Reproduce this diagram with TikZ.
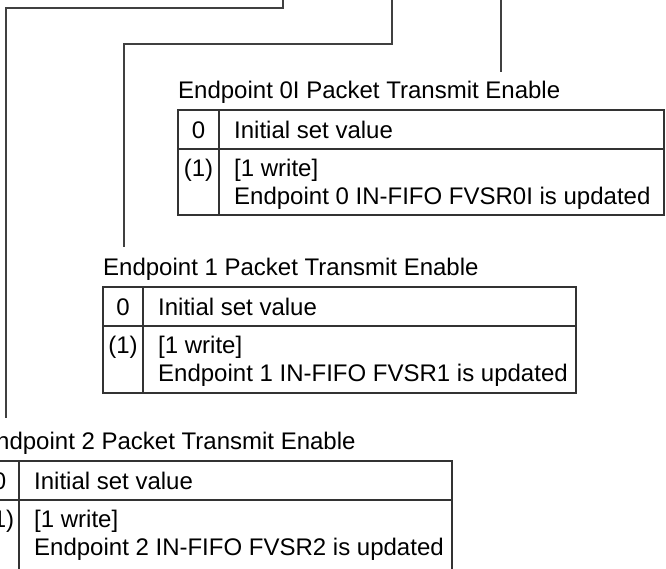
\documentclass[tikz,border=0pt]{standalone}
\usepackage{fontspec}
\setmainfont{Liberation Sans}
\begin{document}
\begin{tikzpicture}[x=1pt,y=-1pt,
  conn/.style={draw=black!75,line width=1.3pt},
  tbl/.style={draw=black!80,line width=1.1pt},
  txt/.style={anchor=base west,inner sep=0pt,font=\fontsize{24}{28}\selectfont},
  ctxt/.style={anchor=base,inner sep=0pt,font=\fontsize{24}{28}\selectfont}]
\useasboundingbox (0,0) rectangle (666,568);
\begin{scope}
\clip (0,0) rectangle (666,568);
% ---- connectors
\coordinate (a0) at (283,0); \coordinate (a1) at (283,8); \coordinate (a2) at (6,8); \coordinate (a3) at (6,418);
\coordinate (b0) at (392,0); \coordinate (b1) at (392,44); \coordinate (b2) at (124,44); \coordinate (b3) at (124,247);
\coordinate (c0) at (501,0); \coordinate (c1) at (501,72);
\draw[conn] (a0) -- (a1) -- (a2) -- (a3);
\draw[conn] (b0) -- (b1) -- (b2) -- (b3);
\draw[conn] (c0) -- (c1);
% ---- table 0
\node[txt] (t0) at (178,98) {Endpoint 0I Packet Transmit Enable};
\draw[tbl] (178,110) rectangle (664,215);
\draw[tbl] (178,149) -- (664,149);
\draw[tbl] (219,110) -- (219,215);
\node[ctxt] (t0a) at (198.5,138) {0};
\node[txt] (t0b) at (234,138) {Initial set value};
\node[ctxt] (t0c) at (198.5,176) {(1)};
\node[txt] (t0d) at (234,176) {[1 write]};
\node[txt] (t0e) at (234,204) {Endpoint 0 IN-FIFO FVSR0I is updated};
% ---- table 1
\node[txt] (t1) at (103,275) {Endpoint 1 Packet Transmit Enable};
\draw[tbl] (103,287) rectangle (576,393);
\draw[tbl] (103,326) -- (576,326);
\draw[tbl] (143,287) -- (143,393);
\node[ctxt] (t1a) at (123,315) {0};
\node[txt] (t1b) at (158,315) {Initial set value};
\node[ctxt] (t1c) at (123,353) {(1)};
\node[txt] (t1d) at (158,353) {[1 write]};
\node[txt] (t1e) at (158,381) {Endpoint 1 IN-FIFO FVSR1 is updated};
% ---- table 2
\node[txt] (t2) at (-20,449) {Endpoint 2 Packet Transmit Enable};
\draw[tbl] (-20,461) rectangle (452,580);
\draw[tbl] (-20,500) -- (452,500);
\draw[tbl] (19,461) -- (19,580);
\node[ctxt] (t2a) at (-0.5,489) {0};
\node[txt] (t2b) at (34,489) {Initial set value};
\node[ctxt] (t2c) at (-0.5,527) {(1)};
\node[txt] (t2d) at (34,527) {[1 write]};
\node[txt] (t2e) at (34,555) {Endpoint 2 IN-FIFO FVSR2 is updated};
\end{scope}
\end{tikzpicture}
\end{document}
